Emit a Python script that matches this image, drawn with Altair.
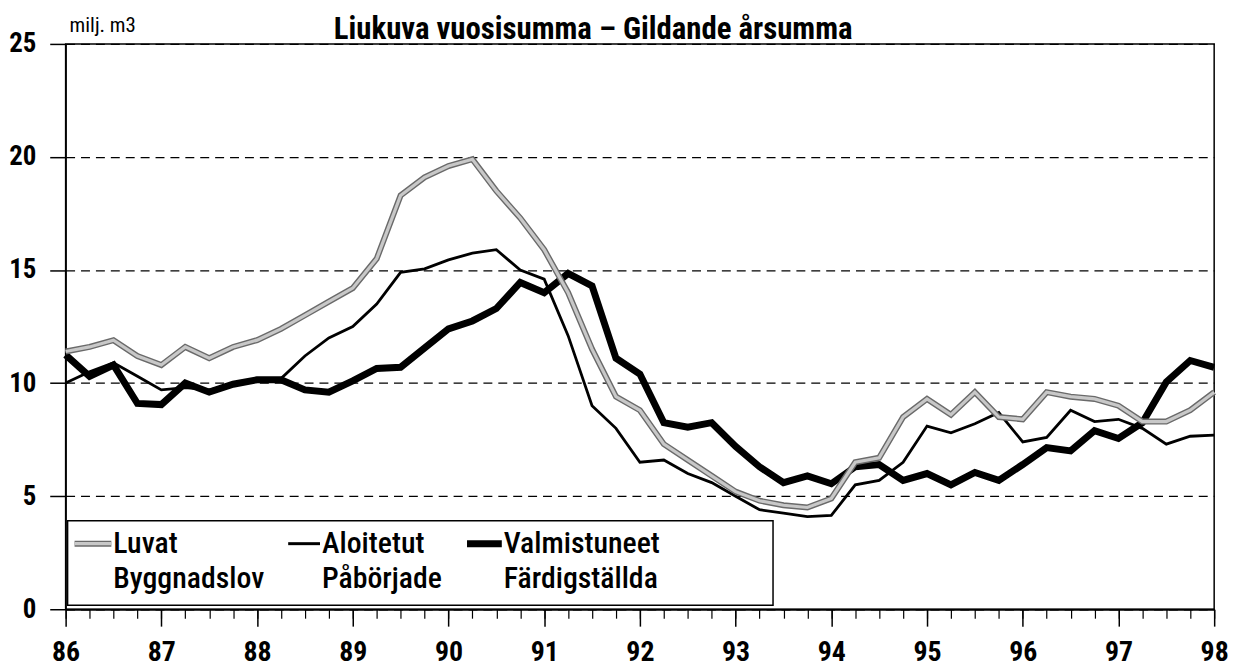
import altair as alt
import pandas as pd

# ---- data (quarterly, rolling annual sum, million m3) ----
years = [86, 87, 88, 89, 90, 91, 92, 93, 94, 95, 96, 97, 98]
quarters = [86 + i / 4 for i in range(49)]

luvat = [11.4, 11.6, 11.9, 11.2, 10.8, 11.6, 11.1, 11.6, 11.9, 12.4, 13.0, 13.6,
         14.2, 15.5, 18.3, 19.1, 19.6, 19.9, 18.5, 17.3, 15.9, 14.0, 11.5, 9.4,
         8.8, 7.3, 6.6, 5.9, 5.2, 4.8, 4.6, 4.5, 4.9, 6.5, 6.7, 8.5,
         9.3, 8.6, 9.6, 8.5, 8.4, 9.6, 9.4, 9.3, 9.0, 8.3, 8.3, 8.8, 9.6]

aloitetut = [10.0, 10.5, 10.9, 10.3, 9.7, 9.8, 9.7, 9.9, 10.1, 10.2, 11.2, 12.0,
             12.5, 13.5, 14.9, 15.05, 15.45, 15.75, 15.9, 15.0, 14.6, 12.1, 9.0, 8.0,
             6.5, 6.6, 6.0, 5.6, 5.0, 4.4, 4.25, 4.1, 4.15, 5.5, 5.7, 6.5,
             8.1, 7.8, 8.2, 8.7, 7.4, 7.6, 8.8, 8.3, 8.4, 8.0, 7.3, 7.65, 7.7]

valmistuneet = [11.25, 10.3, 10.8, 9.1, 9.05, 10.0, 9.6, 9.95, 10.15, 10.15, 9.7, 9.6,
                10.1, 10.65, 10.7, 11.55, 12.4, 12.75, 13.3, 14.45, 14.0, 14.85, 14.3, 11.1,
                10.4, 8.25, 8.05, 8.25, 7.2, 6.3, 5.6, 5.9, 5.55, 6.3, 6.4, 5.7,
                6.0, 5.5, 6.05, 5.7, 6.4, 7.15, 7.0, 7.9, 7.55, 8.25, 10.05, 11.0, 10.7]

y_ticks = [0, 5, 10, 15, 20, 25]

title_text = "Liukuva vuosisumma \u2013 Gildande årsumma"
unit_text = "milj. m3"
legend_top = ["Luvat", "Aloitetut", "Valmistuneet"]
legend_bottom = ["Byggnadslov", "Påbörjade", "Färdigställda"]

df = pd.DataFrame({"t": quarters, "luvat": luvat, "aloitetut": aloitetut,
                   "valmistuneet": valmistuneet})
one = pd.DataFrame({"k": [0]})

FONT = "Roboto Condensed, Liberation Sans Narrow, Roboto, sans-serif"

W, H = 1156, 569
xscale = alt.Scale(domain=[86, 98], nice=False, zero=False)
yscale = alt.Scale(domain=[0, 25], nice=False, zero=True)

x_major_axis = alt.Axis(values=years, format="d", tickSize=17, tickWidth=1.5,
                        tickColor="black", labelPadding=13, labelFontSize=28,
                        labelFont=FONT, labelFontWeight="bold", labelColor="black",
                        labelFlush=False, labelOverlap=False, orient="bottom",
                        domainColor="black", domainWidth=2, grid=False, title=None)
x_minor_axis = alt.Axis(values=quarters, tickSize=9, tickWidth=1.2, tickColor="black",
                        labels=False, domain=False, grid=False, title=None,
                        orient="bottom")
y_axis = alt.Axis(values=y_ticks, tickSize=16, tickWidth=1.5, tickColor="black",
                  labelPadding=14, labelFontSize=27, labelFont=FONT,
                  labelFontWeight="bold", labelColor="black", domainColor="black",
                  domainWidth=1.5, grid=True, gridDash=[9, 6], gridColor="black",
                  gridWidth=1.3, title=None, orient="left")

base = alt.Chart(df)

# Valmistuneet: thick black (carries major x axis)
thick = base.mark_line(color="black", strokeWidth=7).encode(
    x=alt.X("t:Q", scale=xscale, axis=x_major_axis),
    y=alt.Y("valmistuneet:Q", scale=yscale, axis=y_axis),
)
# Aloitetut: thin black (carries minor x ticks)
thin = base.mark_line(color="black", strokeWidth=2.8).encode(
    x=alt.X("t:Q", scale=xscale, axis=x_minor_axis),
    y=alt.Y("aloitetut:Q", scale=yscale, axis=y_axis),
)
# Luvat: grey patterned line (dark outline + light core)
grey_out = base.mark_line(color="#6a6a6a", strokeWidth=6).encode(
    x=alt.X("t:Q", scale=xscale, axis=None),
    y=alt.Y("luvat:Q", scale=yscale, axis=y_axis),
)
grey_in = base.mark_line(color="#c8c8c8", strokeWidth=3.2).encode(
    x=alt.X("t:Q", scale=xscale, axis=None),
    y=alt.Y("luvat:Q", scale=yscale, axis=y_axis),
)

# ---- texts ----
oc = alt.Chart(one)
title = oc.mark_text(text=title_text, font=FONT, fontSize=31, fontWeight="bold",
                     align="center", baseline="alphabetic", color="black").encode(
    x=alt.value(531), y=alt.value(-5))
unit = oc.mark_text(text=unit_text, font=FONT, fontSize=21, align="left",
                    baseline="alphabetic", color="black").encode(
    x=alt.value(4), y=alt.value(-12))

# ---- legend ----
box = oc.mark_rect(fill="white", stroke="black", strokeWidth=1.5).encode(
    x=alt.value(2), x2=alt.value(712), y=alt.value(480), y2=alt.value(565))

sx = [(9, 46), (224, 256), (404, 439)]
tx = [48, 258, 441]
sym_y = 503
leg = [box]
leg.append(oc.mark_rule(color="#6a6a6a", strokeWidth=6).encode(
    x=alt.value(sx[0][0]), x2=alt.value(sx[0][1]), y=alt.value(sym_y)))
leg.append(oc.mark_rule(color="#c8c8c8", strokeWidth=3.2).encode(
    x=alt.value(sx[0][0]), x2=alt.value(sx[0][1]), y=alt.value(sym_y)))
leg.append(oc.mark_rule(color="black", strokeWidth=3).encode(
    x=alt.value(sx[1][0]), x2=alt.value(sx[1][1]), y=alt.value(sym_y)))
leg.append(oc.mark_rule(color="black", strokeWidth=7).encode(
    x=alt.value(sx[2][0]), x2=alt.value(sx[2][1]), y=alt.value(sym_y)))
for i in range(3):
    leg.append(oc.mark_text(text=legend_top[i], font=FONT, fontSize=30, fontWeight=500,
                            align="left", baseline="middle", color="black").encode(
        x=alt.value(tx[i]), y=alt.value(sym_y)))
    leg.append(oc.mark_text(text=legend_bottom[i], font=FONT, fontSize=30, fontWeight=500,
                            align="left", baseline="middle", color="black").encode(
        x=alt.value(tx[i]), y=alt.value(539)))

chart = alt.layer(thick, thin, grey_out, grey_in, title, unit, *leg).resolve_axis(
    x="independent"
).properties(
    width=W, height=H,
    padding={"left": 58, "top": 34, "right": 26, "bottom": 59},
    autosize=alt.AutoSizeParams(type="none"),
    background="white",
).configure_view(stroke="black", strokeWidth=1.5)

chart.save("out.html", embed_options={"renderer": "svg", "actions": False})
